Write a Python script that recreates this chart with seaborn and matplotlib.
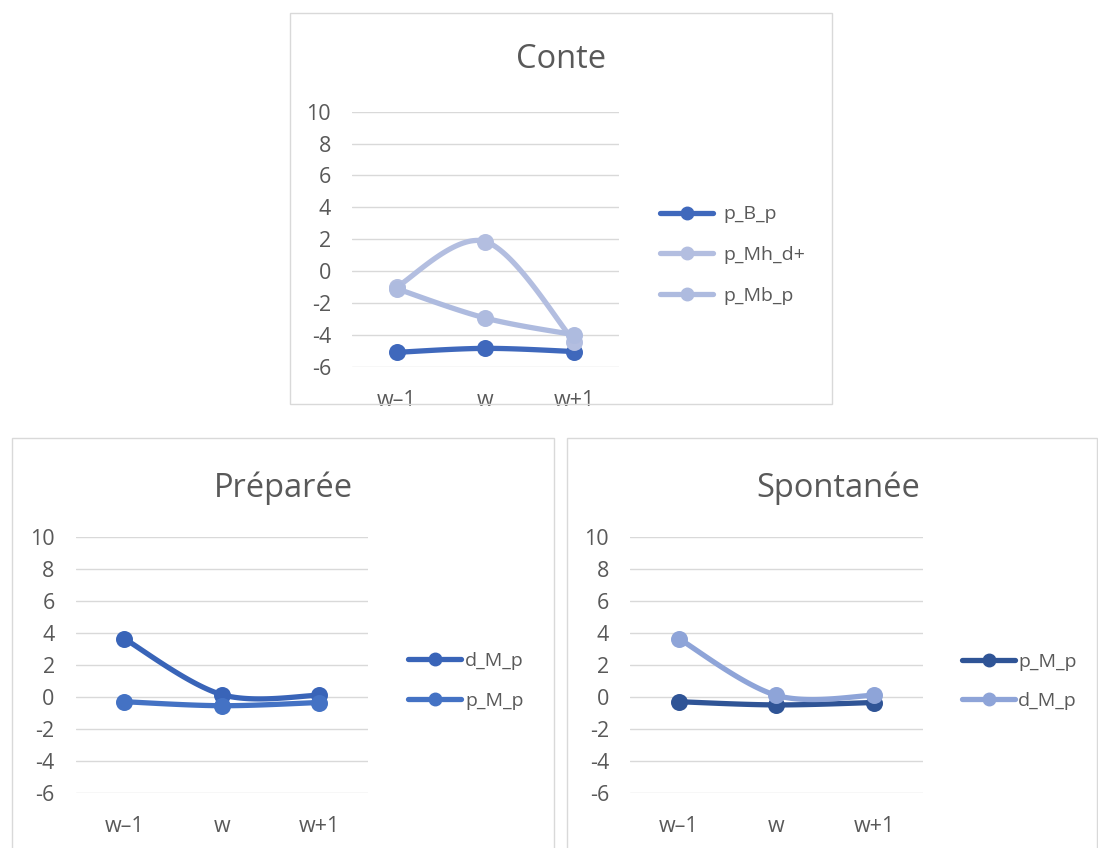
import numpy as np
import pandas as pd
import matplotlib
matplotlib.use("Agg")
import matplotlib.pyplot as plt
from matplotlib.lines import Line2D
from matplotlib.patches import Rectangle
import seaborn as sns

# ---------------- data ----------------
categories = ["w\u20131", "w", "w+1"]
y_ticks = [-6, -4, -2, 0, 2, 4, 6, 8, 10]

conte_labels = ["p_B_p", "p_Mh_d+", "p_Mb_p"]
conte_p_B_p = [-5.1, -4.85, -5.05]
conte_p_Mh_d = [-1.0, 1.85, -4.45]
conte_p_Mb_p = [-1.1, -2.95, -4.0]

prep_labels = ["d_M_p", "p_M_p"]
prep_d_M_p = [3.65, 0.15, 0.1]
prep_p_M_p = [-0.3, -0.55, -0.35]

spont_labels = ["p_M_p", "d_M_p"]
spont_p_M_p = [-0.3, -0.5, -0.35]
spont_d_M_p = [3.65, 0.1, 0.1]

# ---------------- style ----------------
sns.set_theme(style="white")
plt.rcParams['font.family'] = ['Open Sans', 'DejaVu Sans']
TXT = "#595959"
GRID = "#D9D9D9"

W, H = 1098, 848
fig = plt.figure(figsize=(W / 100, H / 100), dpi=100)
fig.patch.set_facecolor("white")


def fx(px):
    return px / W


def fy(py):
    return 1 - py / H


def smooth(xv, yv, n=40):
    """Excel-like smoothed line (cubic Bezier with Catmull-Rom control points)."""
    xv = np.asarray(xv, float)
    yv = np.asarray(yv, float)
    P = np.column_stack([xv, yv])
    pts = [P[0]]
    for i in range(len(P) - 1):
        p0 = P[i - 1] if i > 0 else P[i]
        p1, p2 = P[i], P[i + 1]
        p3 = P[i + 2] if i + 2 < len(P) else P[i + 1]
        c1 = p1 + (p2 - p0) / 6.0
        c2 = p2 - (p3 - p1) / 6.0
        t = np.linspace(0, 1, n)[1:, None]
        seg = ((1 - t) ** 3) * p1 + 3 * ((1 - t) ** 2) * t * c1 + 3 * (1 - t) * t ** 2 * c2 + t ** 3 * p2
        pts.extend(seg)
    pts = np.array(pts)
    return pts[:, 0], pts[:, 1]


TICK_FS = 15.5
LEG_FS = 14
TITLE_FS = 23.5


def panel(box, plot, title, title_x, title_y, series, labels, colors, leg):
    # chart border
    bx0, by0, bx1, by1 = box
    fig.add_artist(Rectangle((fx(bx0), fy(by1)), fx(bx1 - bx0), (by1 - by0) / H,
                             transform=fig.transFigure, fill=False,
                             edgecolor=GRID, lw=1.0))
    px0, py0, px1, py1 = plot
    ax = fig.add_axes([fx(px0), fy(py1), fx(px1 - px0), (py1 - py0) / H])
    ax.set_facecolor("none")
    xpos = np.arange(len(categories)) + 0.5
    for vals, lab, col in zip(series, labels, colors):
        sx, sy = smooth(xpos, vals)
        df = pd.DataFrame({"x": sx, "y": sy})
        sns.lineplot(data=df, x="x", y="y", ax=ax, color=col, lw=3.8,
                     estimator=None, sort=False, solid_capstyle="round", zorder=3)
        dfp = pd.DataFrame({"x": xpos, "y": vals})
        sns.scatterplot(data=dfp, x="x", y="y", ax=ax, color=col, s=150,
                        edgecolor=col, linewidth=0, zorder=4)
    ax.set_xlim(0, len(categories))
    ax.set_ylim(-6, 10)
    ax.set_yticks(y_ticks)
    ax.set_yticklabels([str(v) for v in y_ticks])
    ax.set_xticks(xpos)
    ax.set_xticklabels(categories)
    ax.grid(axis="y", color=GRID, lw=1.0)
    ax.set_axisbelow(True)
    for s in ax.spines.values():
        s.set_visible(False)
    ax.tick_params(axis="y", length=0, pad=15, labelsize=TICK_FS, labelcolor=TXT)
    ax.tick_params(axis="x", length=0, pad=17, labelsize=TICK_FS, labelcolor=TXT)
    ax.set_xlabel("")
    ax.set_ylabel("")
    if ax.get_legend() is not None:
        ax.get_legend().remove()
    fig.text(fx(title_x), fy(title_y), title, ha="center", va="baseline",
             fontsize=TITLE_FS, color=TXT)
    # legend
    lx, ly_top, spacing, tpad = leg
    handles = [Line2D([0], [0], color=c, lw=3.8, marker="o", markersize=9,
                      solid_capstyle="round") for c in colors]
    n = len(labels)
    cy = ly_top + spacing * (n - 1) / 2
    fpx = LEG_FS * 100 / 72
    ax.legend(handles, labels, loc="center left",
              bbox_to_anchor=(fx(lx), fy(cy)),
              bbox_transform=fig.transFigure, frameon=False,
              fontsize=LEG_FS, labelcolor=TXT, borderpad=0, borderaxespad=0,
              handlelength=53 / fpx, handletextpad=tpad / fpx,
              labelspacing=(spacing - fpx * 1.0) / fpx)
    return ax


panel((290, 13, 832, 404), (352, 111.7, 619, 366.7), "Conte", 561, 68,
      [conte_p_B_p, conte_p_Mh_d, conte_p_Mb_p], conte_labels,
      ["#3F68BC", "#B3BEE0", "#AEBBDF"], (660, 213, 42, 10))

panel((12, 438, 554, 860), (75.5, 537.3, 367.7, 792.7), "Préparée", 283, 497,
      [prep_d_M_p, prep_p_M_p], prep_labels,
      ["#3964B8", "#4472C4"], (408, 660, 42, 4))

panel((567, 438, 1097, 860), (630, 537.3, 922.7, 792.7), "Spontanée", 838, 497,
      [spont_p_M_p, spont_d_M_p], spont_labels,
      ["#2F5496", "#8EA4D8"], (962, 661, 41, 3))

fig.savefig("out.png", dpi=100, facecolor="white")
